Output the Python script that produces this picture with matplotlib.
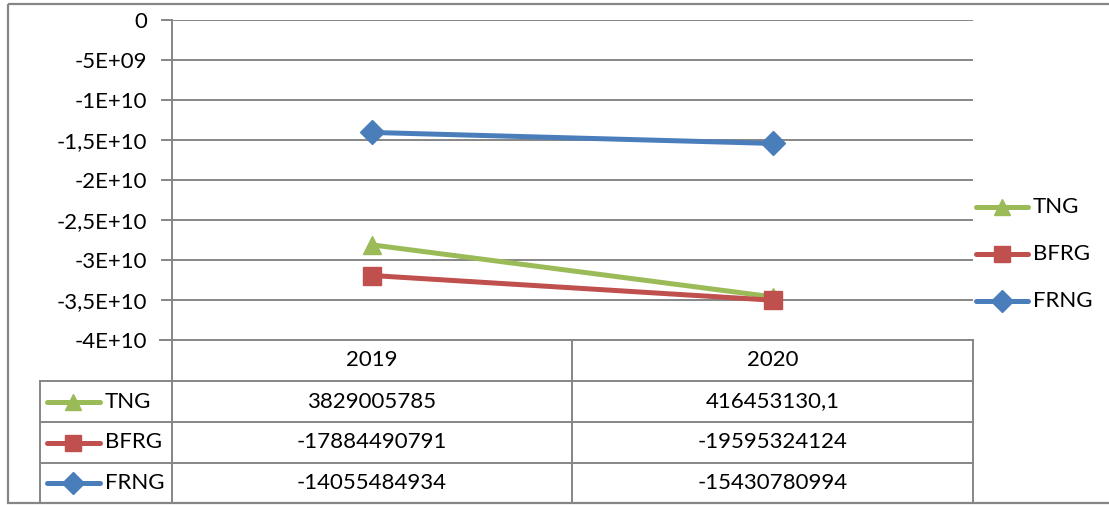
import matplotlib.pyplot as plt
import numpy as np
from matplotlib.ticker import FuncFormatter, MultipleLocator
from matplotlib.lines import Line2D
from matplotlib.patches import Rectangle

plt.rcParams['font.family'] = ['Lato', 'DejaVu Sans']

years = ['2019', '2020']
series = ['TNG', 'BFRG', 'FRNG']
tng = [3829005785, 416453130.1]
bfrg = [-17884490791, -19595324124]
frng = [-14055484934, -15430780994]
table_text = {
    'TNG': ['3829005785', '416453130,1'],
    'BFRG': ['-17884490791', '-19595324124'],
    'FRNG': ['-14055484934', '-15430780994'],
}
colors = {'TNG': '#9BBB59', 'BFRG': '#C0504D', 'FRNG': '#4A7EBB'}
markers = {'TNG': '^', 'BFRG': 's', 'FRNG': 'D'}
msizes = {'TNG': 13, 'BFRG': 13, 'FRNG': 12.5}

# stacked line chart: FRNG at the bottom, then BFRG, then TNG
stack = np.cumsum(np.array([frng, bfrg, tng]), axis=0)
stacked = {'FRNG': stack[0], 'BFRG': stack[1], 'TNG': stack[2]}

W, H = 1109, 505
fig = plt.figure(figsize=(W / 100, H / 100), dpi=100)
gray = '#868686'
fs = 16
lw = 3.6


def px(x0, y0, x1, y1):
    return [x0 / W, 1 - y1 / H, (x1 - x0) / W, (y1 - y0) / H]


ax = fig.add_axes(px(172, 20, 973, 340))
xpos = np.arange(len(years)) + 0.5
for name in ['TNG', 'BFRG', 'FRNG']:
    ax.plot(xpos, stacked[name], color=colors[name], lw=lw,
            marker=markers[name], ms=msizes[name],
            solid_capstyle='round', zorder=3)

ax.set_xlim(0, len(years))
ax.set_ylim(-4e10, 0)
ax.yaxis.set_major_locator(MultipleLocator(5e9))


def fmt(v, pos):
    if abs(v) < 1:
        return '0'
    s = '%.1E' % v
    s = s.replace('.0E', 'E').replace('.', ',')
    return s


ax.yaxis.set_major_formatter(FuncFormatter(fmt))
ax.grid(axis='y', color=gray, lw=1.4)
ax.set_xticks([])
for side in ['top', 'right', 'bottom']:
    ax.spines[side].set_visible(False)
ax.spines['left'].set_color(gray)
ax.spines['left'].set_linewidth(1.4)
ax.tick_params(axis='y', length=8, width=1.4, color=gray, pad=10,
               labelsize=fs)

# overlay for the data table, legend and frame (pixel coordinates)
ov = fig.add_axes([0, 0, 1, 1], zorder=-1)
ov.set_xlim(0, W)
ov.set_ylim(H, 0)
ov.axis('off')
ov.add_patch(Rectangle((8, 4), W, 499, fill=False, ec=gray, lw=1.6))

col_edges = [172, 572, 973]
row_edges = [340, 381, 422, 463, 503]
lc = gray
for x in col_edges:
    ov.plot([x, x], [row_edges[0], row_edges[-1]], color=lc, lw=1.4)
ov.plot([40, 40], [row_edges[1], row_edges[-1]], color=lc, lw=1.4)
ov.plot([160, 973], [row_edges[0], row_edges[0]], color=lc, lw=1.4)
for y in row_edges[1:]:
    ov.plot([40, 973], [y, y], color=lc, lw=1.4)

for i, yr in enumerate(years):
    xc = (col_edges[i] + col_edges[i + 1]) / 2
    ov.text(xc, (row_edges[0] + row_edges[1]) / 2, yr, ha='center',
            va='center', fontsize=fs)

for r, name in enumerate(series):
    yc = (row_edges[r + 1] + row_edges[r + 2]) / 2
    ov.add_line(Line2D([47, 100], [yc, yc], color=colors[name], lw=lw,
                       solid_capstyle='round'))
    ov.plot([73], [yc], marker=markers[name], color=colors[name],
            ms=msizes[name] - 1)
    ov.text(105, yc, name, ha='left', va='center', fontsize=fs)
    for i in range(len(years)):
        xc = (col_edges[i] + col_edges[i + 1]) / 2
        ov.text(xc, yc, table_text[name][i], ha='center', va='center',
                fontsize=fs)

# legend on the right
for name, yl in zip(series, [207, 254, 301]):
    ov.add_line(Line2D([976, 1028], [yl, yl], color=colors[name], lw=lw,
                       solid_capstyle='round'))
    ov.plot([1002], [yl], marker=markers[name], color=colors[name],
            ms=msizes[name] - 1)
    ov.text(1033, yl, name, ha='left', va='center', fontsize=fs)

fig.savefig('out.png', dpi=100)
